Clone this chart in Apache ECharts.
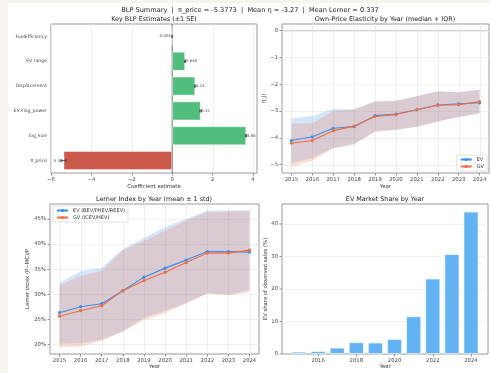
<!DOCTYPE html>
<html>
<head>
<meta charset="utf-8">
<script src="https://cdn.jsdelivr.net/npm/echarts@6/dist/echarts.min.js"></script>
<style>
html,body{margin:0;padding:0;background:#f5f4ef;}
#c{width:491px;height:373px;}
</style>
</head>
<body>
<div id="c"></div>
<script>
// ---- data ----
const years = [2015, 2016, 2017, 2018, 2019, 2020, 2021, 2022, 2023, 2024];

// BLP coefficient estimates (bottom to top)
const coefNames = ['π_price', 'log_size', 'EV×log_power', 'Displacement', 'EV range', 'FuelEfficiency'];
const coefValues = [-5.3773, 3.66, 1.41, 1.14, 0.638, -0.003];
const coefSE = [0.12, 0.03, 0.04, 0.03, 0.02, 0.001];
const coefTicks = [-6, -4, -2, 0, 2, 4];

// own-price elasticity: median and IQR
const evElastMedian = [-4.10, -3.96, -3.64, -3.58, -3.17, -3.11, -2.95, -2.77, -2.73, -2.69];
const evElastQ75 = [-3.28, -3.18, -2.92, -2.92, -2.63, -2.60, -2.45, -2.25, -2.30, -2.20];
const evElastQ25 = [-4.95, -4.75, -4.38, -4.25, -3.75, -3.70, -3.58, -3.38, -3.22, -3.10];
const gvElastMedian = [-4.20, -4.10, -3.73, -3.56, -3.20, -3.13, -2.95, -2.78, -2.76, -2.65];
const gvElastQ75 = [-3.47, -3.45, -3.00, -2.95, -2.65, -2.62, -2.45, -2.27, -2.30, -2.20];
const gvElastQ25 = [-5.08, -4.85, -4.40, -4.22, -3.78, -3.70, -3.58, -3.40, -3.22, -3.08];
const elastTicks = [-5, -4, -3, -2, -1, 0];

// Lerner index: mean and mean ± 1 std
const evLernerMean = [0.263, 0.275, 0.281, 0.307, 0.334, 0.352, 0.368, 0.385, 0.385, 0.384];
const evLernerHi = [0.323, 0.346, 0.353, 0.390, 0.412, 0.434, 0.450, 0.467, 0.467, 0.468];
const evLernerLo = [0.201, 0.202, 0.209, 0.226, 0.253, 0.267, 0.283, 0.302, 0.299, 0.308];
const gvLernerMean = [0.256, 0.267, 0.277, 0.307, 0.327, 0.344, 0.363, 0.382, 0.382, 0.388];
const gvLernerHi = [0.318, 0.337, 0.347, 0.388, 0.406, 0.427, 0.447, 0.463, 0.465, 0.466];
const gvLernerLo = [0.194, 0.195, 0.207, 0.225, 0.248, 0.262, 0.281, 0.301, 0.298, 0.304];
const lernerTicks = [0.20, 0.25, 0.30, 0.35, 0.40, 0.45];

// EV market share (%)
const evShare = [0.7, 0.9, 1.95, 3.6, 3.5, 4.6, 11.6, 23.2, 30.7, 43.8];
const shareTicks = [0, 10, 20, 30, 40];
const shareYearTicks = [2016, 2018, 2020, 2022, 2024];

const supTitle = 'BLP Summary  |  π_price = -5.3773  |  Mean η = -3.27  |  Mean Lerner = 0.337';

// ---- styling ----
const FONT = 'DejaVu Sans';
const EV_COLOR = '#3a8fe6';
const GV_COLOR = '#f06c45';
const TICK_COLOR = '#444';
const GRID_COLOR = '#ebebeb';

const chart = echarts.init(document.getElementById('c'), null, {renderer: 'canvas'});

function fmt3(v) { return String(Number(v.toPrecision(3))); }
const plain = v => String(v);
const signed = v => (v < 0 ? '−' + Math.abs(v) : String(v));

function valueAxis(gridIndex, min, max, ticks, formatter, extra) {
  return Object.assign({
    type: 'value', gridIndex, min, max,
    axisLine: {show: false, onZero: false},
    axisTick: {show: true, length: 2.5, customValues: ticks, lineStyle: {color: '#777', width: 0.8}},
    axisLabel: {show: true, customValues: ticks, fontSize: 5.3, color: TICK_COLOR, fontFamily: FONT, margin: 4,
      formatter: formatter, hideOverlap: false},
    splitLine: {show: false},
    nameTextStyle: {fontSize: 5.3, color: '#333', fontFamily: FONT},
    nameLocation: 'middle'
  }, extra || {});
}

// light grid lines drawn behind the marks
function gridLineSeries(xi, yi, xs, ys, ref, zeroX) {
  return {
    type: 'custom', xAxisIndex: xi, yAxisIndex: yi, silent: true, z: 0,
    data: [ref], clip: true,
    renderItem(params, api) {
      const cs = params.coordSys;
      const children = [];
      xs.forEach(v => {
        const x = Math.round(api.coord([v, ref[1]])[0]) + 0.5;
        children.push({type: 'line', shape: {x1: x, y1: cs.y, x2: x, y2: cs.y + cs.height},
          style: {stroke: GRID_COLOR, lineWidth: 0.8}});
      });
      ys.forEach(v => {
        const y = Math.round(api.coord([ref[0], v])[1]) + 0.5;
        children.push({type: 'line', shape: {x1: cs.x, y1: y, x2: cs.x + cs.width, y2: y},
          style: {stroke: GRID_COLOR, lineWidth: 0.8}});
      });
      if (zeroX) {
        const x = api.coord([0, ref[1]])[0];
        children.push({type: 'line', shape: {x1: x, y1: cs.y, x2: x, y2: cs.y + cs.height},
          style: {stroke: '#555', lineWidth: 0.8}, z2: 50});
      }
      return {type: 'group', children};
    }
  };
}

// shaded band between two yearly curves
function bandSeries(xi, yi, upper, lower, color, z) {
  return {
    type: 'custom', xAxisIndex: xi, yAxisIndex: yi, silent: true, z: z,
    data: [[years[0], lower[0]]],
    renderItem(params, api) {
      const pts = [];
      years.forEach((yr, i) => pts.push(api.coord([yr, upper[i]])));
      for (let i = years.length - 1; i >= 0; i--) pts.push(api.coord([years[i], lower[i]]));
      return {type: 'polygon', shape: {points: pts}, style: {fill: color, opacity: 0.22}};
    }
  };
}

function lineSeries(name, xi, yi, vals, color, extra) {
  return Object.assign({
    name, type: 'line', xAxisIndex: xi, yAxisIndex: yi, z: 5,
    data: years.map((y, i) => [y, vals[i]]),
    symbol: 'circle', symbolSize: 3.2, showSymbol: true,
    lineStyle: {color, width: 1.1}, itemStyle: {color},
    emphasis: {disabled: true}
  }, extra || {});
}

const titleText = (x, y, text, size) => ({
  type: 'text', x, y,
  style: {text, fontSize: size, fontFamily: FONT, fill: '#222', textAlign: 'center', textVerticalAlign: 'middle'}
});

const baseGraphic = [
  {type: 'rect', shape: {x: 8, y: 3, width: 483, height: 370}, style: {fill: '#ffffff'}, z: -10, silent: true},
  titleText(250, 10, supTitle, 6.6),
  titleText(154, 19, 'Key BLP Estimates (±1 SE)', 6.4),
  titleText(385, 19, 'Own-Price Elasticity by Year (median + IQR)', 6.4),
  titleText(154, 199, 'Lerner Index by Year (mean ± 1 std)', 6.4),
  titleText(385, 199, 'EV Market Share by Year', 6.4)
];

const option = {
  animation: false,
  backgroundColor: '#f5f4ef',
  textStyle: {fontFamily: FONT},
  graphic: baseGraphic,
  grid: [
    {left: 51, top: 24, width: 206, height: 149, show: true, borderColor: '#999', borderWidth: 1},
    {left: 282, top: 24, width: 207, height: 149, show: true, borderColor: '#999', borderWidth: 1},
    {left: 50, top: 204, width: 209, height: 150, show: true, borderColor: '#999', borderWidth: 1},
    {left: 282, top: 204, width: 206, height: 150, show: true, borderColor: '#999', borderWidth: 1}
  ],
  xAxis: [
    valueAxis(0, -6, 4.2, coefTicks, signed, {name: 'Coefficient estimate', nameGap: 11, position: 'bottom'}),
    valueAxis(1, 2014.55, 2024.45, years, plain, {name: 'Year', nameGap: 11, position: 'bottom'}),
    valueAxis(2, 2014.55, 2024.45, years, plain, {name: 'Year', nameGap: 10, position: 'bottom'}),
    valueAxis(3, 2014.11, 2024.89, shareYearTicks, plain, {name: 'Year', nameGap: 10, position: 'bottom'})
  ],
  yAxis: [
    {
      type: 'category', gridIndex: 0, data: coefNames, position: 'left',
      axisLine: {show: false, onZero: false},
      axisTick: {alignWithLabel: true, length: 2.5, lineStyle: {color: '#777', width: 0.8}},
      axisLabel: {fontSize: 4.6, color: TICK_COLOR, fontFamily: FONT, margin: 4},
      splitLine: {show: false}
    },
    valueAxis(1, -5.31, 0.25, elastTicks, signed, {name: 'η_jj', nameGap: 14, nameRotate: 90, position: 'left'}),
    valueAxis(2, 0.1806, 0.48, lernerTicks, v => Math.round(v * 100) + '%',
      {name: 'Lerner index (P−MC)/P', nameGap: 20, nameRotate: 90, position: 'left'}),
    {
      type: 'value', gridIndex: 3, min: 0, max: 46.15, position: 'left',
      axisLine: {show: false, onZero: false},
      axisTick: {show: false},
      axisLabel: {show: false},
      splitLine: {show: false},
      name: 'EV share of observed sales (%)', nameLocation: 'middle', nameGap: 14, nameRotate: 90,
      nameTextStyle: {fontSize: 5.3, color: '#333', fontFamily: FONT}
    }
  ],
  legend: [
    {
      data: ['EV', 'GV'], orient: 'vertical', right: 4, top: 155,
      itemWidth: 11, itemHeight: 4, itemGap: 2, padding: [2, 3],
      textStyle: {fontSize: 5, color: '#333', fontFamily: FONT},
      borderColor: '#d0d0d0', borderWidth: 0.6, borderRadius: 1, backgroundColor: '#fff',
      selectedMode: false
    },
    {
      data: ['EV (BEV/PHEV/REEV)', 'GV (ICEV/HEV)'], orient: 'vertical', left: 53, top: 206,
      itemWidth: 11, itemHeight: 4, itemGap: 2, padding: [2, 3],
      textStyle: {fontSize: 5, color: '#333', fontFamily: FONT},
      borderColor: '#d0d0d0', borderWidth: 0.6, borderRadius: 1, backgroundColor: '#fff',
      selectedMode: false
    }
  ],
  series: [
    // --- coefficients ---
    gridLineSeries(0, 0, coefTicks, [], [0, 0], true),
    {
      type: 'bar', xAxisIndex: 0, yAxisIndex: 0, barCategoryGap: '24%', z: 3,
      data: coefValues.map(v => ({
        value: v,
        itemStyle: {color: v < 0 ? '#cc5a4c' : '#50bd7d', borderColor: 'rgba(255,255,255,0.55)', borderWidth: 0.8},
        label: {show: true, position: v < 0 ? 'left' : 'right', distance: 1, formatter: () => fmt3(v),
          fontSize: 3.8, color: '#444', fontFamily: FONT}
      })),
      emphasis: {disabled: true}
    },
    {
      type: 'custom', xAxisIndex: 0, yAxisIndex: 0, z: 6, silent: true,
      data: coefValues.map((v, i) => [v, i, coefSE[i]]),
      encode: {x: 0, y: 1},
      renderItem(params, api) {
        const v = api.value(0), i = api.value(1), se = api.value(2);
        const a = api.coord([v - se, i]), b = api.coord([v + se, i]);
        const cap = 1.6;
        const st = {stroke: '#333', lineWidth: 0.8};
        return {type: 'group', children: [
          {type: 'line', shape: {x1: a[0], y1: a[1], x2: b[0], y2: b[1]}, style: st},
          {type: 'line', shape: {x1: a[0], y1: a[1] - cap, x2: a[0], y2: a[1] + cap}, style: st},
          {type: 'line', shape: {x1: b[0], y1: b[1] - cap, x2: b[0], y2: b[1] + cap}, style: st}
        ]};
      }
    },

    // --- elasticity ---
    gridLineSeries(1, 1, years, elastTicks, [2020, -3], false),
    bandSeries(1, 1, evElastQ75, evElastQ25, EV_COLOR, 1),
    bandSeries(1, 1, gvElastQ75, gvElastQ25, GV_COLOR, 2),
    lineSeries('EV', 1, 1, evElastMedian, EV_COLOR, {
      markLine: {symbol: 'none', silent: true, label: {show: false},
        lineStyle: {type: 'dotted', color: '#999', width: 0.8}, data: [{yAxis: 0}]}
    }),
    lineSeries('GV', 1, 1, gvElastMedian, GV_COLOR),

    // --- Lerner index ---
    gridLineSeries(2, 2, years, lernerTicks, [2020, 0.3], false),
    bandSeries(2, 2, evLernerHi, evLernerLo, EV_COLOR, 1),
    bandSeries(2, 2, gvLernerHi, gvLernerLo, GV_COLOR, 2),
    lineSeries('EV (BEV/PHEV/REEV)', 2, 2, evLernerMean, EV_COLOR),
    lineSeries('GV (ICEV/HEV)', 2, 2, gvLernerMean, GV_COLOR),

    // --- EV share ---
    gridLineSeries(3, 3, [], shareTicks, [2020, 10], false),
    {
      type: 'bar', xAxisIndex: 3, yAxisIndex: 3, z: 3, barWidth: 15,
      data: years.map((y, i) => [y, evShare[i]]),
      itemStyle: {color: '#62b2f4', borderColor: 'rgba(255,255,255,0.8)', borderWidth: 0.8},
      emphasis: {disabled: true}
    }
  ]
};

chart.setOption(option);

// share-axis ticks and labels, positioned through the y scale of the share grid
const shareGrid = option.grid[3];
const shareTickGraphic = [];
shareTicks.forEach(v => {
  const y = chart.convertToPixel({yAxisIndex: 3}, v);
  shareTickGraphic.push({type: 'line', z: 100, silent: true,
    shape: {x1: shareGrid.left - 2.5, y1: y, x2: shareGrid.left, y2: y},
    style: {stroke: '#777', lineWidth: 0.8}});
  shareTickGraphic.push({type: 'text', z: 100, silent: true, x: shareGrid.left - 4, y: y,
    style: {text: plain(v), fontSize: 5.3, fontFamily: FONT, fill: TICK_COLOR,
      textAlign: 'right', textVerticalAlign: 'middle'}});
});
chart.setOption({graphic: baseGraphic.concat(shareTickGraphic)});
</script>
</body>
</html>
